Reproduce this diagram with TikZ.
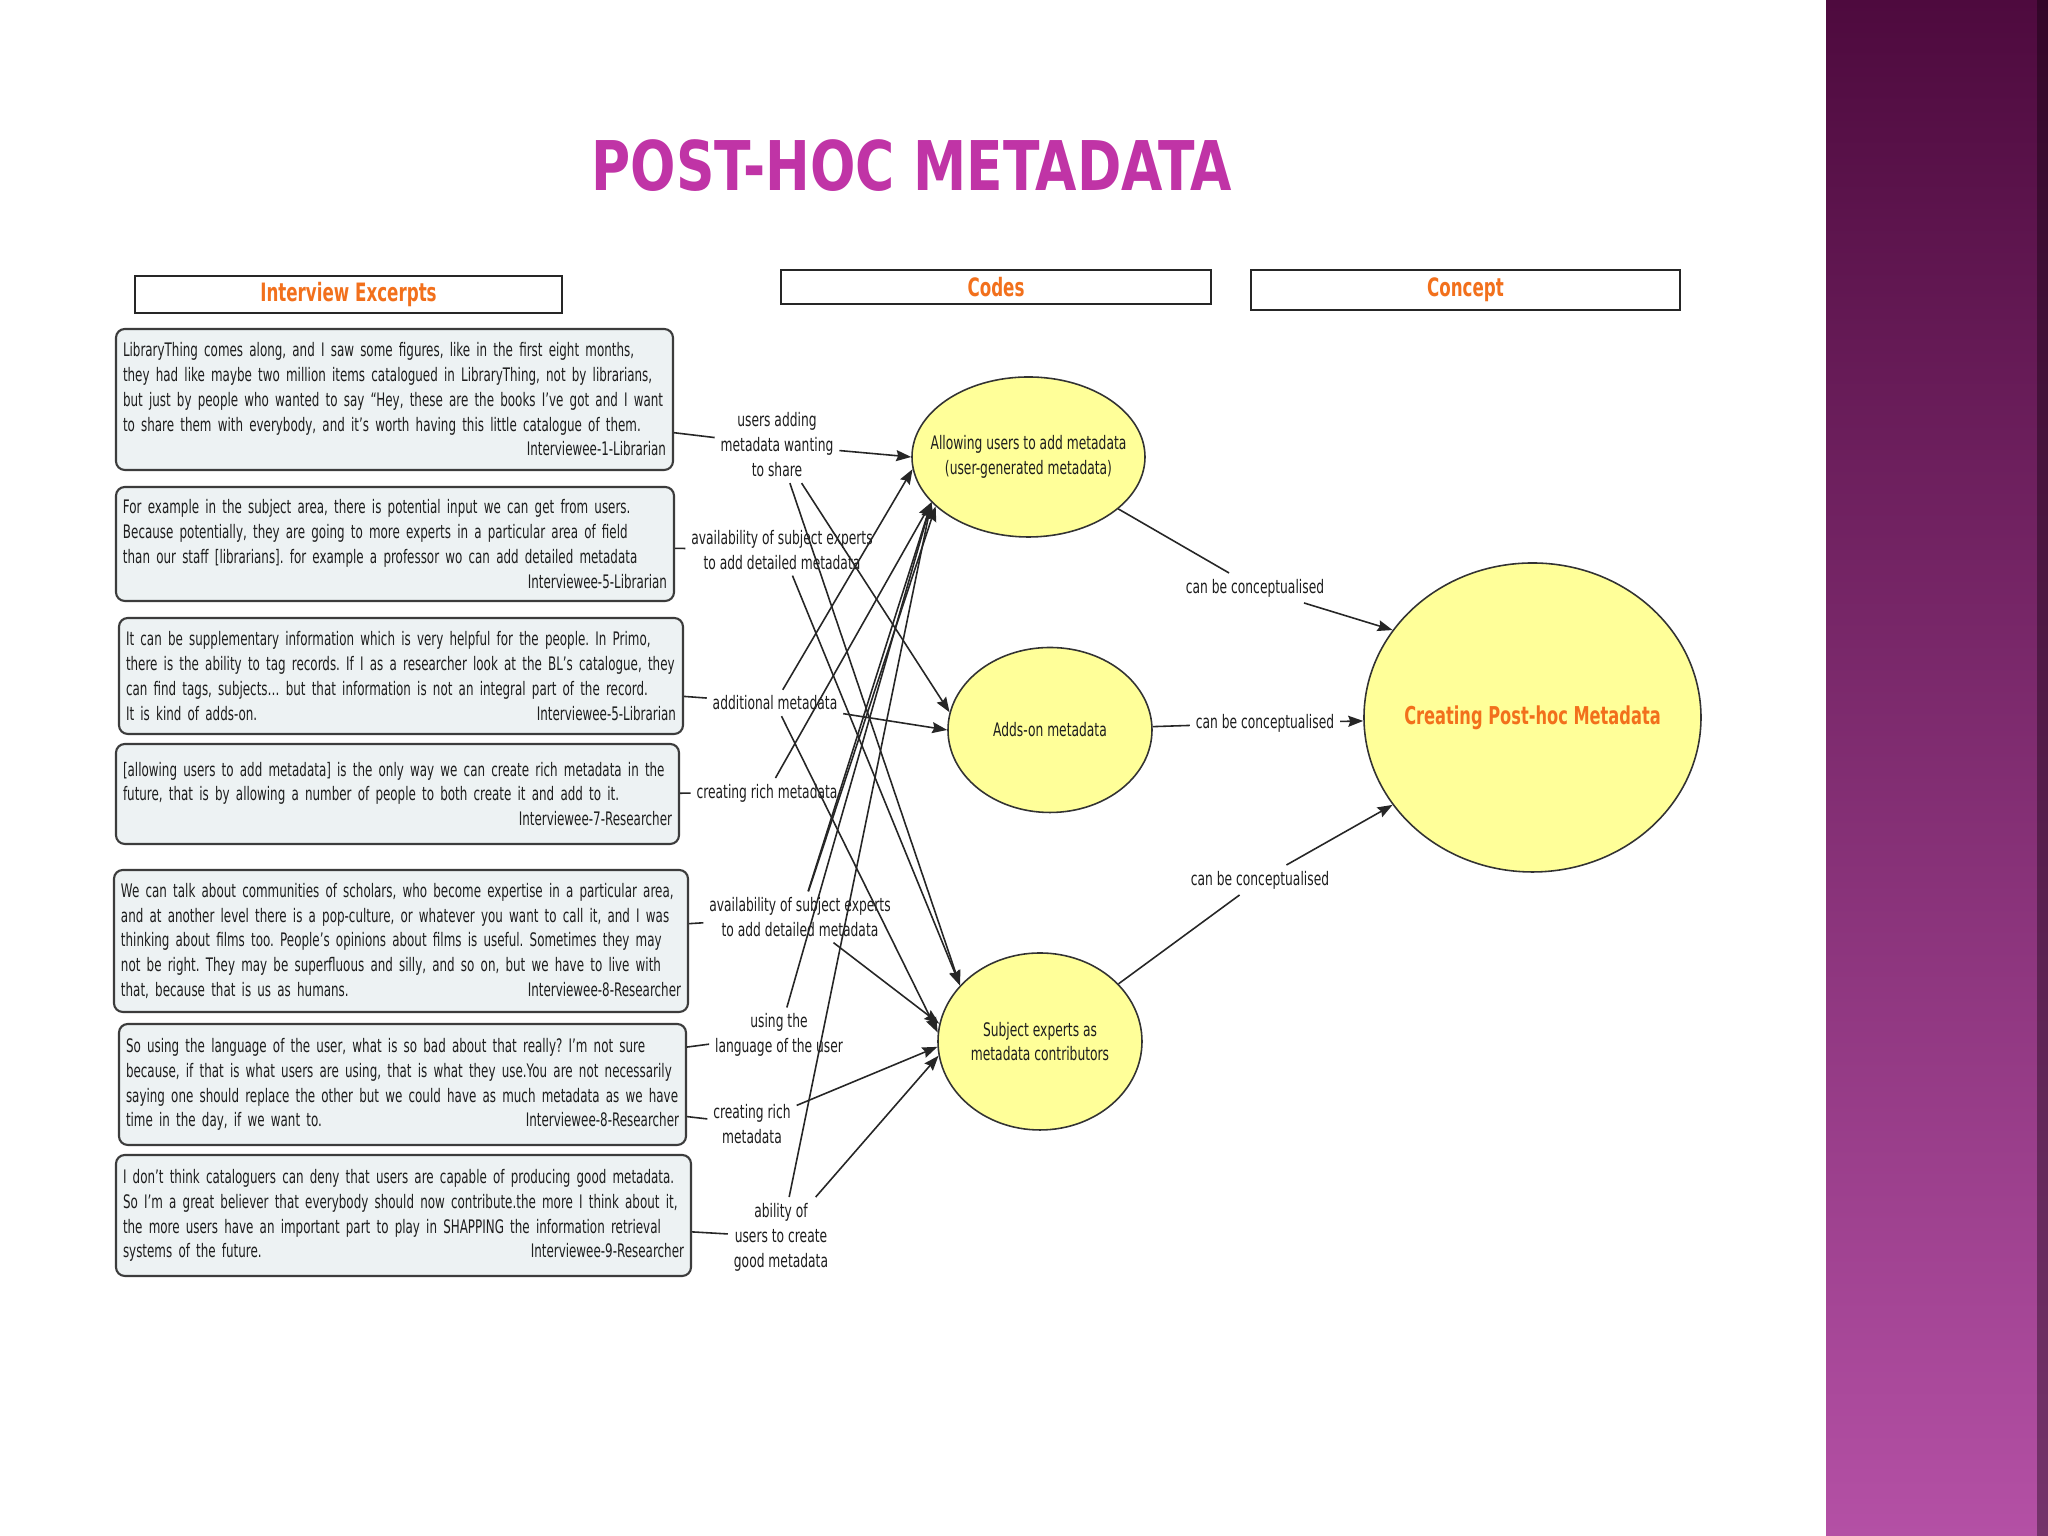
\documentclass[tikz,border=0pt]{standalone}
\usepackage{fontspec}
\usepackage{tikz}
\usetikzlibrary{shapes.geometric, arrows.meta, positioning}
\newfontfamily\mapfont{DejaVu Sans}[FakeStretch=0.66]
\newfontfamily\quotefont{DejaVu Sans}[FakeStretch=0.64]
\newfontfamily\headfont{DejaVu Sans}[FakeStretch=0.78]
\frenchspacing
\hyphenpenalty=10000
\definecolor{cmapyellow}{RGB}{255,255,153}
\definecolor{cmaporange}{RGB}{242,112,28}
\definecolor{titlepink}{RGB}{192,52,166}
\definecolor{boxgrey}{RGB}{237,242,243}
\definecolor{boxline}{RGB}{60,60,60}
\definecolor{txtdark}{RGB}{30,30,30}
\definecolor{bartop}{RGB}{78,10,62}
\definecolor{barbot}{RGB}{180,80,165}
\tikzset{
  excerpt/.style={rectangle, draw=boxline, fill=boxgrey, rounded corners=2.5pt,
    line width=0.6pt, align=left, inner xsep=0.07cm, inner ysep=0pt,
    font=\quotefont\fontsize{5.3}{7.05}\selectfont, text=txtdark},
  hdrbox/.style={rectangle, draw=black!85, fill=white, line width=0.7pt,
    inner sep=0pt, font=\mapfont\bfseries\fontsize{7.2}{8}\selectfont, text=cmaporange},
  concept/.style={ellipse, draw=black!80, fill=cmapyellow, line width=0.45pt, inner sep=0pt},
  conctext/.style={align=center, font=\mapfont\fontsize{5.3}{7.05}\selectfont, text=txtdark},
  bigtext/.style={font=\mapfont\bfseries\fontsize{7.0}{8}\selectfont, text=cmaporange},
  codelbl/.style={align=center, inner sep=1.5pt,
    font=\mapfont\fontsize{5.3}{7.1}\selectfont, text=txtdark},
  titletext/.style={font=\headfont\bfseries\fontsize{19.5}{22}\selectfont, text=titlepink},
  line/.style={line width=0.45pt, color=black!85},
  arrow/.style={-{Stealth[length=1.5mm,width=1.1mm,inset=0.2mm]}, line width=0.45pt, color=black!85}
}

\begin{document}
\begin{tikzpicture}
  % slide background and side bar
  \useasboundingbox (0,0) rectangle (20.48,15.36);
  \fill[white] (0,0) rectangle (20.48,15.36);
  \shade[top color=bartop, bottom color=barbot] (18.26,0) rectangle (20.48,15.36);
  \fill[black, opacity=0.35] (20.37,0) rectangle (20.48,15.36);

  \node[titletext] (title) at (9.12,13.70) {POST-HOC METADATA};

  % column headers
  \node[hdrbox, minimum width=4.27cm, minimum height=0.37cm] (hexc) at (3.485,12.415) {Interview Excerpts};
  \node[hdrbox, minimum width=4.30cm, minimum height=0.34cm] (hcodes) at (9.96,12.49) {Codes};
  \node[hdrbox, minimum width=4.29cm, minimum height=0.40cm] (hconc) at (14.655,12.46) {Concept};

  % interview excerpts
  \node[excerpt, text width=5.43cm, minimum height=1.41cm] (ex1) at (3.945,11.365) {LibraryThing comes along, and I saw some figures, like in the first eight months,\\
they had like maybe two million items catalogued in LibraryThing, not by librarians,\\
but just by people who wanted to say “Hey, these are the books I’ve got and I want\\
to share them with everybody, and it’s worth having this little catalogue of them.\\
\hspace*{\fill}Interviewee-1-Librarian};
  \node[excerpt, text width=5.44cm, minimum height=1.14cm] (ex2) at (3.95,9.92) {For example in the subject area, there is potential input we can get from users.\\
Because potentially, they are going to more experts in a particular area of field\\
than our staff [librarians]. for example a professor wo can add detailed metadata\\
\hspace*{\fill}Interviewee-5-Librarian};
  \node[excerpt, text width=5.50cm, minimum height=1.16cm] (ex3) at (4.01,8.60) {It can be supplementary information which is very helpful for the people. In Primo,\\
there is the ability to tag records. If I as a researcher look at the BL’s catalogue, they\\
can find tags, subjects… but that information is not an integral part of the record.\\
It is kind of adds-on.\hfill Interviewee-5-Librarian};
  \node[excerpt, text width=5.49cm, minimum height=1.00cm] (ex4) at (3.975,7.42) {[allowing users to add metadata] is the only way we can create rich metadata in the\\
future, that is by allowing a number of people to both create it and add to it.\\
\hspace*{\fill}Interviewee-7-Researcher};
  \node[excerpt, text width=5.60cm, minimum height=1.42cm] (ex5) at (4.01,5.95) {We can talk about communities of scholars, who become expertise in a particular area,\\
and at another level there is a pop-culture, or whatever you want to call it, and I was\\
thinking about films too. People’s opinions about films is useful. Sometimes they may\\
not be right. They may be superfluous and silly, and so on, but we have to live with\\
that, because that is us as humans.\hfill Interviewee-8-Researcher};
  \node[excerpt, text width=5.53cm, minimum height=1.21cm] (ex6) at (4.025,4.515) {So using the language of the user, what is so bad about that really? I’m not sure\\
because, if that is what users are using, that is what they use.You are not necessarily\\
saying one should replace the other but we could have as much metadata as we have\\
time in the day, if we want to.\hfill Interviewee-8-Researcher};
  \node[excerpt, text width=5.61cm, minimum height=1.21cm] (ex7) at (4.035,3.205) {I don’t think cataloguers can deny that users are capable of producing good metadata.\\
So I’m a great believer that everybody should now contribute.the more I think about it,\\
the more users have an important part to play in SHAPPING the information retrieval\\
systems of the future.\hfill Interviewee-9-Researcher};

  % codes
  \node[codelbl] (l1) at (7.77,10.91) {users adding\\metadata wanting\\to share};
  \node[codelbl] (l2) at (7.82,9.86) {availability of subject experts\\to add detailed metadata};
  \node[codelbl] (l3) at (7.75,8.33) {additional metadata};
  \node[codelbl] (l4) at (7.67,7.43) {creating rich metadata};
  \node[codelbl] (l5) at (8.00,6.19) {availability of subject experts\\to add detailed metadata};
  \node[codelbl] (l6) at (7.79,5.01) {using the\\language of the user};
  \node[codelbl] (l7) at (7.52,4.12) {creating rich\\metadata};
  \node[codelbl] (l8) at (7.81,2.99) {ability of\\users to create\\good metadata};

  % concepts
  \node[concept, minimum width=2.33cm, minimum height=1.60cm,
    label={[conctext]center:{Allowing users to add metadata\\(user-generated metadata)}}] (e1) at (10.285,10.79) {};
  \node[concept, minimum width=2.04cm, minimum height=1.65cm,
    label={[conctext]center:{Adds-on metadata}}] (e2) at (10.50,8.06) {};
  \node[concept, minimum width=2.04cm, minimum height=1.77cm,
    label={[conctext]center:{Subject experts as\\metadata contributors}}] (e3) at (10.40,4.945) {};
  \node[concept, minimum width=3.37cm, minimum height=3.09cm,
    label={[bigtext]center:{Creating Post-hoc Metadata}}] (big) at (15.325,8.185) {};

  \node[codelbl] (c1) at (12.55,9.48) {can be conceptualised};
  \node[codelbl] (c2) at (12.65,8.13) {can be conceptualised};
  \node[codelbl] (c3) at (12.60,6.56) {can be conceptualised};

  % excerpts to codes
  \foreach \a/\b in {ex1/l1, ex2/l2, ex3/l3, ex4/l4, ex5/l5, ex6/l6, ex6/l7, ex7/l8}
    \draw[line] (\a) -- (\b);
  % codes to concepts
  \foreach \a/\b in {l1/e1.west, l1/e2.170, l1/e3.145, l2/e3.145, l3/e1.186, l3/e2.west,
                     l3/e3.175, l4/e1.205, l5/e1.205, l5/e1.208, l5/e3.170, l6/e1.205,
                     l7/e3.183, l8/e1.205, l8/e3.188}
    \draw[arrow] (\a) -- (\b);
  % concepts to main concept
  \draw[line] (e1) -- (c1);  \draw[arrow] (c1) -- (big.148);
  \draw[line] (e2) -- (c2);  \draw[arrow] (c2) -- (big);
  \draw[line] (e3) -- (c3);  \draw[arrow] (c3) -- (big.212);
\end{tikzpicture}
\end{document}
